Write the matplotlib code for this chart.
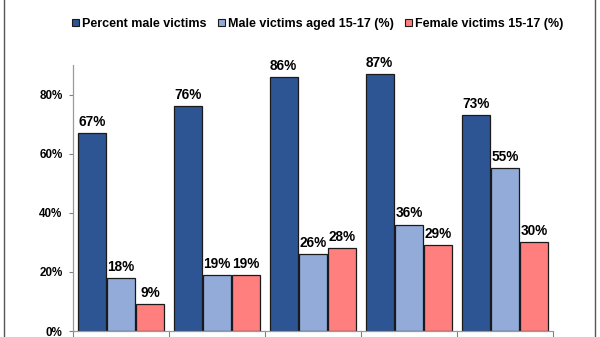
import matplotlib
matplotlib.use("Agg")
import matplotlib.pyplot as plt
from matplotlib.lines import Line2D
from matplotlib.patches import Patch
import numpy as np

plt.rcParams['font.family'] = ['Liberation Sans', 'DejaVu Sans']

groups = [1, 2, 3, 4, 5]
series_names = ["Percent male victims", "Male victims aged 15-17 (%)", "Female victims 15-17 (%)"]
male_pct = [67, 76, 86, 87, 73]
male_15_17 = [18, 19, 26, 36, 55]
female_15_17 = [9, 19, 28, 29, 30]
y_ticks = [0, 20, 40, 60, 80]
y_tick_labels = ["0%", "20%", "40%", "60%", "80%"]

colors = ["#2E5593", "#93ABD9", "#FF7F7F"]
edge = "#1a1a1a"

fig = plt.figure(figsize=(6.0, 3.37), dpi=100)
ax = fig.add_axes([73 / 600, 1 - 331 / 337, 480 / 600, (331 - 65) / 337])

x = np.arange(len(groups))
width = 0.29
offset = 0.305
for i, (vals, col) in enumerate(zip([male_pct, male_15_17, female_15_17], colors)):
    pos = x + (i - 1) * offset
    ax.bar(pos, vals, width=width, color=col, edgecolor=edge, linewidth=0.9, zorder=2)
    for px, v in zip(pos, vals):
        ax.annotate(f"{v}%", (px, v), xytext=(0, 3), textcoords="offset points",
                    ha="center", va="bottom", fontsize=9.8, fontweight="bold", color="black")

ax.set_xlim(-0.5, len(groups) - 0.5)
ax.set_ylim(0, 90)
ax.set_yticks(y_ticks)
ax.set_yticklabels(y_tick_labels, fontsize=8.4, fontweight="bold")
ax.set_xticks(np.arange(-0.5, len(groups) + 0.5, 1.0))
ax.set_xticklabels([])
ax.tick_params(axis="y", direction="out", length=3, width=0.8, color="#808080", pad=4.5)
ax.tick_params(axis="x", direction="out", length=4, width=0.8, color="#808080")
for s in ["top", "right"]:
    ax.spines[s].set_visible(False)
for s in ["left", "bottom"]:
    ax.spines[s].set_color("#9a9a9a")
    ax.spines[s].set_linewidth(0.9)

handles = [Patch(facecolor=c, edgecolor=edge, linewidth=0.8) for c in colors]
fig.legend(handles, series_names, loc="center", bbox_to_anchor=(318 / 600, 1 - 24 / 337),
           ncol=3, frameon=False, prop={"size": 9, "weight": "bold"},
           handlelength=0.55, handleheight=0.55, handletextpad=0.25, columnspacing=0.9)

# outer frame sides
fig.add_artist(Line2D([3.5 / 600, 3.5 / 600], [0, 1], transform=fig.transFigure, color="#555555", lw=1.0))
fig.add_artist(Line2D([595 / 600, 595 / 600], [0, 1], transform=fig.transFigure, color="#555555", lw=1.0))

fig.savefig("out.png", dpi=100, facecolor="white")
